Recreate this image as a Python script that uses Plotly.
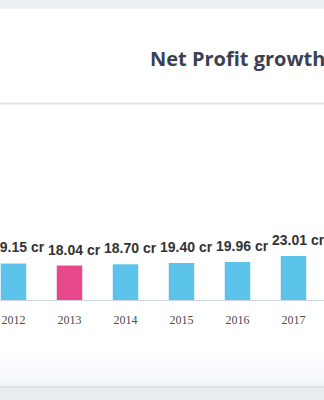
import plotly.graph_objects as go

years = ["2012", "2013", "2014", "2015", "2016", "2017"]
profits = [19.15, 18.04, 18.70, 19.40, 19.96, 23.01]
labels = ["19.15 cr", "18.04 cr", "18.70 cr", "19.40 cr", "19.96 cr", "23.01 cr"]
bar_colors = ["#5cc3ea", "#e8488a", "#5cc3ea", "#5cc3ea", "#5cc3ea", "#5cc3ea"]
title_text = "Net Profit growth"

W, H = 324, 400
PLOT_TOP, PLOT_BOTTOM = 110, 300
PX_PER_UNIT = 1.91


def py(px):
    return (PLOT_BOTTOM - px) / (PLOT_BOTTOM - PLOT_TOP)


def px_x(px):
    return px / W


fig = go.Figure()
fig.add_trace(go.Bar(
    x=years, y=profits,
    marker=dict(color=bar_colors, line=dict(width=0)),
    hoverinfo="skip",
))

shapes = []
# top gray strip
shapes.append(dict(type="rect", xref="paper", yref="paper", x0=-0.01, x1=1.01,
                   y0=py(8.5), y1=py(-2), fillcolor="#eceef3", line=dict(width=0), layer="below"))
# divider under title
shapes.append(dict(type="rect", xref="paper", yref="paper", x0=-0.01, x1=1.01,
                   y0=py(104.5), y1=py(102.5), fillcolor="#e7e7e9", line=dict(width=0), layer="below"))
# bottom gradient (approximated by bands)
n = 12
for i in range(n):
    top = 350 + i * 36 / n
    bot = 350 + (i + 1) * 36 / n
    t = (i + 1) / n
    r = int(round(255 - t * (255 - 244)))
    g = int(round(255 - t * (255 - 245)))
    b = int(round(255 - t * (255 - 248)))
    shapes.append(dict(type="rect", xref="paper", yref="paper", x0=-0.01, x1=1.01,
                       y0=py(bot), y1=py(top), fillcolor=f"rgb({r},{g},{b})",
                       line=dict(width=0), layer="below"))
# bottom border and gray strip
shapes.append(dict(type="rect", xref="paper", yref="paper", x0=-0.01, x1=1.01,
                   y0=py(388), y1=py(386), fillcolor="#dde2ea", line=dict(width=0), layer="below"))
shapes.append(dict(type="rect", xref="paper", yref="paper", x0=-0.01, x1=1.01,
                   y0=py(402), y1=py(388), fillcolor="#e9ecf1", line=dict(width=0), layer="below"))

annotations = []
for i, (v, lab) in enumerate(zip(profits, labels)):
    annotations.append(dict(x=i, y=v, xref="x", yref="y", text=lab, showarrow=False,
                            xanchor="center", yanchor="bottom", xshift=5, yshift=6,
                            font=dict(family="Liberation Sans, Arial, sans-serif",
                                      size=14, color="#333333", weight=700)))
annotations.append(dict(x=px_x(148), y=py(58), xref="paper", yref="paper", text=title_text,
                        showarrow=False, xanchor="left", yanchor="middle",
                        font=dict(family="Open Sans, sans-serif", size=20, color="#3b4151",
                                  weight=700)))

fig.update_layout(
    width=W, height=H,
    margin=dict(l=0, r=0, t=PLOT_TOP, b=H - PLOT_BOTTOM, pad=0),
    paper_bgcolor="white", plot_bgcolor="rgba(0,0,0,0)",
    showlegend=False,
    bargap=0.545,
    shapes=shapes,
    annotations=annotations,
    xaxis=dict(
        type="category",
        range=[-13.5 / 56, -13.5 / 56 + W / 56],
        showgrid=False, zeroline=False,
        showline=True, linecolor="#ccd6eb", linewidth=1,
        ticks="outside", ticklen=9, tickcolor="rgba(0,0,0,0)",
        tickfont=dict(family="Liberation Serif, Times New Roman, serif", size=12, color="#4a4a4a"),
        fixedrange=True,
    ),
    yaxis=dict(
        range=[0, (PLOT_BOTTOM - PLOT_TOP) / PX_PER_UNIT],
        visible=False, showgrid=False, zeroline=False, fixedrange=True,
    ),
)

fig.write_html("out.html", config={"displayModeBar": False})
